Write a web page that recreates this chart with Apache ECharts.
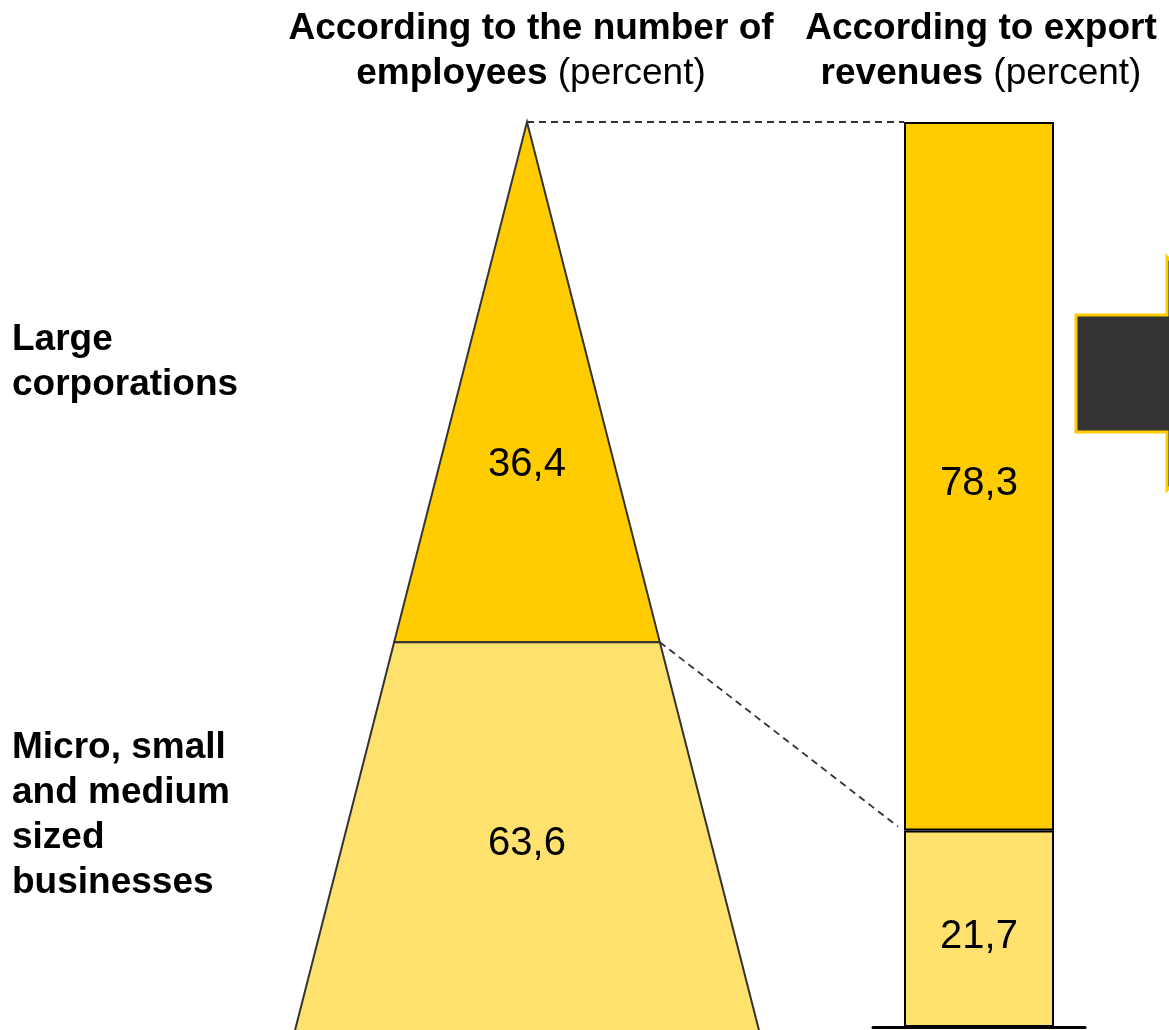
<!DOCTYPE html>
<html>
<head>
<meta charset="utf-8">
<script src="https://cdn.jsdelivr.net/npm/echarts@6/dist/echarts.min.js"></script>
<style>
  html, body { margin: 0; padding: 0; background: #ffffff; }
  #chart { width: 1169px; height: 1030px; }
</style>
</head>
<body>
<div id="chart"></div>
<script>
// Company size groups, top to bottom
const groups = ['Large corporations', 'Micro, small and medium sized businesses'];
const groupLines = [['Large', 'corporations'], ['Micro, small', 'and medium', 'sized', 'businesses']];
// Share of employees (percent)
const employeeShare = [36.4, 63.6];
// Share of export revenues (percent)
const exportShare = [78.3, 21.7];

const FONT = "'Liberation Sans', Arial, sans-serif";
const fills = ['#FFCC00', '#FFE16E'];
const fmt = v => String(v).replace('.', ',');

// Pyramid segments as [start, end] on a 0..100 scale measured from the apex
const pyramidData = [];
let acc = 0;
employeeShare.forEach((v, i) => {
  pyramidData.push({ value: [acc, acc + v, v, i] });
  acc += v;
});
// where inside each segment its value is written (fraction of segment height)
const labelAnchor = [0.66, 0.222];
// only the upper part of the pyramid fits on the page
const pyramidVisibleDepth = 63.54;

const chart = echarts.init(document.getElementById('chart'), null, { renderer: 'canvas' });

const option = {
  backgroundColor: '#ffffff',
  animation: false,
  grid: [
    { left: 162, width: 730, top: 122, height: 908 },
    { left: 873, width: 212, top: 122, height: 905 }
  ],
  xAxis: [
    { gridIndex: 0, type: 'value', min: -100, max: 100, show: false },
    {
      gridIndex: 1, type: 'category', data: [''],
      axisLine: { show: true, lineStyle: { color: '#000', width: 3 } },
      axisTick: { show: false }, axisLabel: { show: false }, splitLine: { show: false }
    }
  ],
  yAxis: [
    { gridIndex: 0, type: 'value', min: 0, max: pyramidVisibleDepth, inverse: true, show: false },
    { gridIndex: 1, type: 'value', min: 0, max: 100, show: false }
  ],
  series: [
    {
      type: 'custom',
      xAxisIndex: 0, yAxisIndex: 0,
      clip: false,
      data: pyramidData,
      renderItem(params, api) {
        const a = api.value(0), b = api.value(1), v = api.value(2), i = api.value(3);
        const pts = [api.coord([-a, a]), api.coord([a, a]), api.coord([b, b]), api.coord([-b, b])];
        const ly = a + (b - a) * labelAnchor[i];
        const lp = api.coord([0, ly]);
        return {
          type: 'group',
          children: [
            {
              type: 'polygon',
              shape: { points: pts },
              style: { fill: fills[i], stroke: '#333333', lineWidth: 2, lineJoin: 'miter' }
            },
            {
              type: 'text',
              x: lp[0], y: lp[1],
              style: {
                text: fmt(v), fill: '#000', font: '40px ' + FONT,
                textAlign: 'center', textVerticalAlign: 'middle'
              }
            }
          ]
        };
      }
    },
    {
      name: groups[1], type: 'bar', stack: 'exp',
      xAxisIndex: 1, yAxisIndex: 1, barWidth: 150,
      data: [exportShare[1]],
      itemStyle: { color: fills[1], borderColor: '#000', borderWidth: 2 },
      label: {
        show: true, position: 'inside', offset: [0, 8], color: '#000', fontSize: 40, fontFamily: FONT,
        formatter: p => fmt(p.value)
      }
    },
    {
      name: groups[0], type: 'bar', stack: 'exp',
      xAxisIndex: 1, yAxisIndex: 1, barWidth: 150,
      data: [exportShare[0]],
      itemStyle: { color: fills[0], borderColor: '#000', borderWidth: 2 },
      label: {
        show: true, position: 'inside', offset: [0, 8], color: '#000', fontSize: 40, fontFamily: FONT,
        formatter: p => fmt(p.value)
      }
    }
  ]
};

chart.setOption(option);

// Connector lines from the pyramid to the export bar, placed through both grids' scales
const barHalf = 75;
const apex = chart.convertToPixel({ gridIndex: 0 }, [0, 0]);
const split = chart.convertToPixel({ gridIndex: 0 }, [employeeShare[0], employeeShare[0]]);
const barTop = chart.convertToPixel({ gridIndex: 1 }, [0, 100]);
const barSplit = chart.convertToPixel({ gridIndex: 1 }, [0, exportShare[1]]);
const dash = { stroke: '#333333', lineWidth: 1.8, lineDash: [7, 5] };

// Title and row label texts
const titleRich = {
  b: { fontSize: 37, fontWeight: 'bold', fontFamily: FONT, fill: '#000', lineHeight: 45 },
  n: { fontSize: 37, fontFamily: FONT, fill: '#000', lineHeight: 45 }
};
const titles = [
  { x: 531, text: '{b|According to the number of}\n{b|employees}{n| (percent)}' },
  { x: 981, text: '{b|According to export}\n{b|revenues}{n| (percent)}' }
];
const rowLabelTop = [317, 725];

const graphics = [
  { type: 'line', z: 5, shape: { x1: apex[0], y1: apex[1], x2: barTop[0] - barHalf, y2: barTop[1] }, style: dash },
  { type: 'line', z: 5, shape: { x1: split[0], y1: split[1], x2: barSplit[0] - barHalf - 6, y2: barSplit[1] - 4 }, style: dash },
  // block arrow pointing right, at the edge
  {
    type: 'polygon', z: 5,
    shape: { points: [[1076, 315], [1167, 315], [1167, 257], [1290, 373], [1167, 490], [1167, 432], [1076, 432]] },
    style: { fill: '#333333', stroke: '#FFCC00', lineWidth: 3 }
  }
];
titles.forEach(t => {
  graphics.push({
    type: 'text', x: t.x, y: 6,
    style: { text: t.text, rich: titleRich, textAlign: 'center', textVerticalAlign: 'top' }
  });
});
groupLines.forEach((lines, i) => {
  graphics.push({
    type: 'text', x: 12, y: rowLabelTop[i],
    style: {
      text: lines.join('\n'), fill: '#000', fontSize: 37, fontWeight: 'bold', fontFamily: FONT,
      lineHeight: 45, textAlign: 'left', textVerticalAlign: 'top'
    }
  });
});

chart.setOption({ graphic: graphics });
</script>
</body>
</html>
